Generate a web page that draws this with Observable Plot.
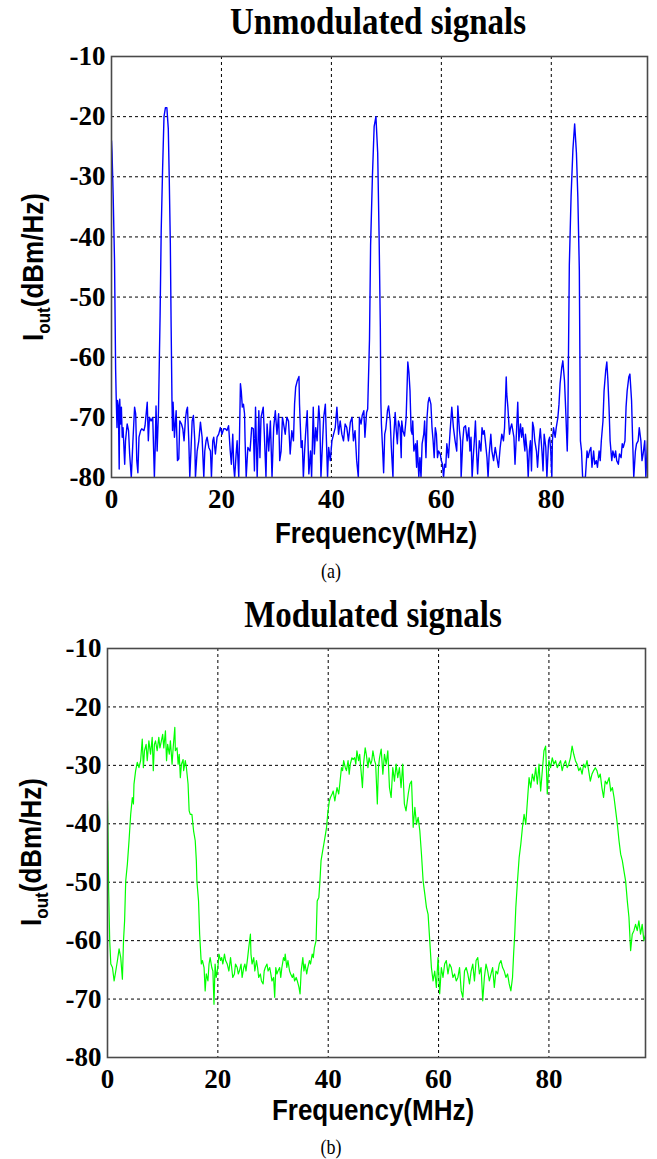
<!DOCTYPE html>
<html><head><meta charset="utf-8">
<script src="https://cdn.jsdelivr.net/npm/d3@7"></script>
<script src="https://cdn.jsdelivr.net/npm/@observablehq/plot@0.6"></script>
<style>
body{margin:0;background:#fff;}
#page{position:relative;width:657px;height:1159px;overflow:hidden;background:#fff;}
.abs{position:absolute;white-space:nowrap;line-height:1;transform:translate(-50%,-50%) scale(1,1.12);color:#000;}
.title{font-family:"Liberation Serif","Times New Roman",serif;font-weight:bold;font-size:33px;}
.xlab{font-family:"Liberation Sans",Arial,sans-serif;font-weight:bold;font-size:26px;}
.ylab{font-family:"Liberation Sans",Arial,sans-serif;font-weight:bold;font-size:26px;transform:translate(-50%,-50%) rotate(-90deg) scale(1,1.12);}
.ylab sub{font-size:17px;vertical-align:-6px;}
.cap{font-family:"Liberation Serif","Times New Roman",serif;font-size:18px;}
.panel{position:absolute;left:0;}
</style>
</head><body>
<div id="page"></div>
<script>
// ---- data ----
const xTicks = [0, 20, 40, 60, 80];
const yTicks = [-10, -20, -30, -40, -50, -60, -70, -80];
const xGrid = [20, 40, 60, 80];
const yGrid = [-20, -30, -40, -50, -60, -70];

// Panel (a): unmodulated signals, [frequency MHz, dBm/Hz]
const unmodulated = [
[0,-24],[0.1,-26],[0.3,-33],[0.55,-44],[0.75,-62],[0.85,-66.5],[1.0,-71.7],[1.1,-67.2],[1.25,-68.1],[1.4,-78.6],
[1.5,-67],[1.65,-71.1],[1.8,-68.3],[1.95,-73.3],[2.1,-71.7],[2.4,-77.8],[2.55,-73.9],[2.85,-71.1],[3.1,-72.2],[3.3,-76.1],
[3.6,-80],[3.9,-73.9],[4.2,-68.3],[4.4,-69.4],[4.6,-77.2],[4.8,-79.2],[5.0,-73.3],[5.3,-72.2],[5.5,-71.9],[5.9,-72.2],
[6.1,-71.4],[6.5,-67.5],[6.7,-73.9],[6.9,-70],[7.2,-70.6],[7.5,-70],[7.8,-80],[7.95,-75],[8.1,-68.1],[8.3,-75.6],
[8.55,-68.9],[8.84,-53],[9.04,-39],[9.3,-28.5],[9.55,-20],[9.81,-18.5],[10.07,-18.5],[10.33,-22],[10.5,-30],[10.7,-41],
[10.85,-55],[11.0,-67.2],[11.1,-72.2],[11.2,-67.5],[11.45,-73.3],[11.76,-68.9],[12.0,-77.2],[12.24,-76.9],[12.42,-70.6],[12.73,-71.1],
[12.97,-71.9],[13.2,-73.9],[13.45,-70.3],[13.64,-68.9],[13.82,-68.3],[14.06,-73.9],[14.24,-80],[14.48,-75],[14.67,-70.6],[14.9,-69.7],
[15.15,-73.9],[15.27,-80],[15.58,-75.6],[15.88,-73.9],[16.18,-70.8],[16.48,-73.3],[16.79,-80],[16.97,-75.6],[17.2,-73.9],[17.39,-73.3],
[17.7,-75],[18.0,-75.6],[18.18,-80],[18.42,-73.9],[18.6,-73.3],[18.9,-76.1],[19.2,-73.3],[19.5,-72.8],[19.8,-71.7],[20.1,-72.8],
[20.4,-71.9],[20.7,-71.9],[21.0,-72.2],[21.3,-71.4],[21.6,-75.6],[21.8,-77.8],[22.06,-72.8],[22.24,-78.3],[22.4,-80],[22.67,-76.1],
[22.85,-73.9],[23.15,-80],[23.45,-64.4],[23.6,-65.6],[23.8,-68.3],[24.0,-67.8],[24.2,-69.4],[24.3,-73.9],[24.5,-80],[24.8,-75],
[25.2,-75.6],[25.5,-71.7],[25.8,-71.9],[26.0,-78.9],[26.2,-68.3],[26.5,-80],[26.8,-68.9],[27.0,-76.7],[27.2,-70],[27.6,-68.3],
[27.8,-72.8],[28.1,-80],[28.3,-71.1],[28.6,-75.6],[28.9,-70.6],[29.2,-80],[29.5,-71.7],[29.8,-68.9],[30.1,-72.8],[30.4,-69.4],
[30.6,-77.2],[30.85,-75.6],[31.1,-70],[31.3,-71.1],[31.6,-72.8],[31.9,-70],[32.2,-70.6],[32.5,-76.1],[32.8,-72.2],[33.1,-73.9],
[33.3,-67.8],[33.5,-65],[33.8,-63.9],[34.1,-63.2],[34.2,-67.8],[34.5,-75],[34.7,-73.9],[34.9,-80],[35.1,-76.1],[35.3,-72.8],
[35.6,-68.9],[35.9,-79.4],[36.2,-75.6],[36.4,-80],[36.7,-68.3],[36.9,-76.1],[37.15,-71.7],[37.4,-73.9],[37.7,-68.1],[37.9,-70.6],
[38.1,-80],[38.4,-73.9],[38.6,-70],[38.9,-67.8],[39.1,-73.9],[39.3,-80],[39.5,-75],[39.8,-77.2],[40.1,-73.9],[40.4,-72.8],
[40.7,-71.7],[41.0,-68.3],[41.3,-72.8],[41.6,-70.6],[41.9,-72.8],[42.2,-73.9],[42.5,-71.1],[42.8,-71.7],[43.1,-73.9],[43.45,-70.8],
[43.75,-70],[44.0,-73.9],[44.3,-72.2],[44.6,-77.2],[44.9,-80],[45.1,-70],[45.4,-71.1],[45.6,-69.7],[45.9,-68.9],[46.1,-73.3],
[46.4,-69.2],[46.6,-68.6],[46.93,-57],[47.13,-41.4],[47.46,-30],[47.78,-21.6],[48.1,-20],[48.42,-26],[48.68,-40],[48.9,-55],
[49.0,-67.5],[49.1,-71.1],[49.3,-75],[49.5,-79.2],[49.7,-72.8],[49.9,-71.9],[50.2,-68.9],[50.4,-68.1],[50.7,-70.6],[50.9,-75],
[51.2,-80],[51.3,-73.9],[51.6,-69.2],[51.8,-72.2],[52.0,-74.4],[52.2,-70.6],[52.5,-71.7],[52.7,-76.7],[52.8,-70.6],[53.0,-72.2],
[53.3,-73.1],[53.5,-71.1],[53.6,-70],[53.8,-63.9],[53.9,-60.8],[54.1,-62.5],[54.3,-65.6],[54.5,-72.2],[54.7,-72.8],[54.8,-70.6],
[55.0,-75.6],[55.3,-74.4],[55.5,-78.3],[55.6,-73.9],[55.9,-80],[56.1,-76.7],[56.3,-80],[56.5,-74.4],[56.8,-72.8],[56.96,-70.6],
[57.2,-76.7],[57.4,-70],[57.6,-67.5],[57.8,-66.7],[58.1,-67.8],[58.3,-71.7],[58.5,-73.9],[58.7,-76.7],[58.9,-71.7],[59.1,-72.8],
[59.3,-76.7],[59.5,-75.6],[59.8,-76.1],[60.0,-77.2],[60.2,-77.8],[60.4,-80],[60.6,-77.8],[60.8,-78.3],[61.0,-74.4],[61.3,-76.7],
[61.6,-72.2],[61.9,-68.3],[62.2,-71.7],[62.5,-73.9],[62.8,-75.6],[63.0,-68.1],[63.3,-72.2],[63.5,-73.9],[63.6,-80],[63.9,-73.9],
[64.1,-71.7],[64.4,-71.4],[64.7,-73.9],[65.0,-71.7],[65.2,-75.6],[65.4,-73.3],[65.6,-80],[65.8,-76.7],[66.0,-73.9],[66.2,-70.6],
[66.4,-75.6],[66.6,-79.4],[66.9,-73.9],[67.2,-75.6],[67.4,-71.7],[67.6,-72.8],[67.8,-72.2],[68.0,-73.9],[68.3,-76.7],[68.5,-80],
[68.7,-76.1],[69.0,-72.8],[69.2,-75.6],[69.5,-77.2],[69.8,-75],[70.1,-76.7],[70.4,-78.3],[70.7,-75],[71.0,-72.8],[71.3,-73.9],
[71.5,-71.7],[71.8,-63.3],[71.9,-66.1],[72.1,-68.3],[72.4,-72.8],[72.6,-71.7],[72.8,-71.1],[73.2,-73.3],[73.4,-77.8],[73.6,-73.9],
[73.9,-67.5],[74.1,-73.9],[74.4,-71.1],[74.6,-73.3],[74.8,-71.7],[75.0,-73.9],[75.2,-75.6],[75.3,-72.8],[75.6,-75.6],[75.8,-80],
[76.0,-75.6],[76.2,-73.9],[76.4,-78.9],[76.6,-70.8],[76.8,-71.7],[77.0,-73.9],[77.3,-75.6],[77.5,-78.3],[77.8,-73.9],[78.0,-71.9],
[78.3,-75.6],[78.5,-78.9],[78.7,-72.8],[79.0,-75],[79.2,-80],[79.5,-73.9],[79.7,-73.3],[79.9,-75.6],[80.1,-80],[80.2,-73.9],
[80.4,-71.7],[80.7,-73.3],[80.9,-71.7],[81.2,-70],[81.4,-67.8],[81.6,-64.4],[81.9,-61.7],[82.1,-60.6],[82.4,-63.9],[82.6,-68.3],
[82.9,-75.6],[83.0,-71.7],[83.28,-44.7],[83.6,-33.2],[83.93,-25.5],[84.25,-21.2],[84.57,-26],[84.83,-33.4],[85.1,-45.5],[85.3,-73.9],
[85.5,-75.6],[85.7,-80],[86.0,-80],[86.2,-80],[86.5,-75.6],[86.7,-76.7],[86.95,-75.6],[87.2,-75],[87.4,-78.3],[87.7,-75.6],
[87.9,-77.8],[88.2,-77.2],[88.4,-78.3],[88.7,-75.6],[88.9,-77.2],[89.1,-73.9],[89.4,-70.6],[89.6,-65.6],[89.9,-62.2],[90.1,-60.8],
[90.3,-63.9],[90.5,-68.3],[90.7,-73.9],[91.0,-77.2],[91.2,-75.6],[91.5,-76.7],[91.7,-75.6],[91.9,-77.2],[92.2,-77.8],[92.4,-76.1],
[92.7,-76.7],[92.9,-74.4],[93.1,-75],[93.4,-73.9],[93.6,-68.3],[93.8,-65.6],[94.1,-63.3],[94.3,-62.8],[94.6,-67.2],[94.8,-73.9],
[95.0,-80],[95.3,-75.6],[95.5,-74.4],[95.8,-73.9],[96.0,-71.7],[96.3,-73.9],[96.5,-77.2],[96.7,-76.1],[97.0,-73.9],[97.2,-80],
[97.5,-73.9]
];

// Panel (b): modulated signals, [frequency MHz, dBm/Hz]
const modulated = [
[0,-36],[0.1,-42],[0.2,-51],[0.4,-60],[0.6,-64],[0.9,-64.6],[1.2,-66.9],[1.5,-65.2],[1.8,-63.4],[2.1,-61.4],
[2.4,-62.9],[2.7,-66.6],[2.9,-60],[3.1,-56.6],[3.3,-49.8],[3.6,-46.9],[3.9,-42.9],[4.2,-38.4],[4.5,-35.5],[4.7,-36.6],
[4.8,-33.2],[5.1,-30.9],[5.4,-29.5],[5.7,-30.4],[6.0,-29.2],[6.3,-25.5],[6.5,-30.4],[6.7,-27.5],[7.0,-26.4],[7.2,-29.2],
[7.5,-25.8],[7.8,-28.1],[8.1,-25.2],[8.3,-30.9],[8.5,-26.4],[8.7,-25.8],[9.0,-27.5],[9.3,-25.2],[9.5,-27],[9.7,-26.1],
[10.0,-24.7],[10.2,-27],[10.5,-24.1],[10.7,-29.2],[10.9,-26.4],[11.2,-28.1],[11.4,-25.8],[11.7,-29.8],[11.9,-27],[12.2,-23.5],
[12.3,-27.5],[12.6,-27],[12.8,-29.8],[13.0,-28.1],[13.2,-32.1],[13.4,-29.8],[13.7,-29],[13.8,-30.9],[14.1,-29.2],[14.3,-30.4],
[14.6,-33.2],[14.8,-37.8],[15.0,-38.4],[15.3,-38.4],[15.6,-41.2],[15.9,-42.9],[16.1,-46.3],[16.2,-49.8],[16.5,-53.2],[16.7,-58.9],
[17.0,-64],[17.2,-63.4],[17.5,-64.6],[17.7,-68.6],[17.9,-65.7],[18.2,-66.9],[18.4,-64],[18.6,-62.9],[18.9,-64.6],[19.1,-65.2],
[19.3,-70.9],[19.5,-64],[19.7,-66.3],[20.0,-64.6],[20.2,-62.3],[20.5,-63.4],[20.7,-62.9],[20.9,-64],[21.2,-62.3],[21.4,-63.4],
[21.7,-64],[22.0,-65.2],[22.3,-62.9],[22.5,-64.6],[22.7,-66.3],[23.0,-65.7],[23.2,-64],[23.5,-64.6],[23.7,-65.7],[23.9,-65.2],
[24.2,-64],[24.4,-66.3],[24.7,-64.6],[24.9,-64],[25.1,-65.2],[25.4,-62.9],[25.6,-61.2],[25.9,-58.9],[26.0,-62.3],[26.2,-64],
[26.5,-62.9],[26.7,-65.2],[27.0,-63.4],[27.2,-64.6],[27.4,-66.3],[27.7,-65.7],[27.9,-66.9],[28.2,-67.4],[28.4,-65.2],[28.6,-64.6],
[28.9,-64],[29.1,-65.2],[29.4,-64.6],[29.6,-65.7],[29.8,-66.9],[30.1,-66.3],[30.3,-69.7],[30.5,-64.6],[30.7,-65.7],[30.9,-65.2],
[31.2,-64.6],[31.4,-66.3],[31.6,-64.6],[31.9,-62.9],[32.1,-63.4],[32.2,-62.3],[32.5,-64.6],[32.7,-63.4],[33.0,-65.2],[33.2,-65.7],
[33.5,-66.3],[33.7,-65.7],[33.9,-66.9],[34.2,-66.3],[34.4,-66.9],[34.7,-68],[34.9,-69.1],[35.1,-65.2],[35.4,-62.9],[35.6,-65.2],
[35.8,-64],[36.1,-65.7],[36.3,-64.6],[36.6,-63.4],[36.8,-64],[37.1,-62.3],[37.3,-62.9],[37.5,-61.2],[37.8,-60],[38.0,-53.2],
[38.3,-52.6],[38.5,-49.8],[38.7,-46.3],[39.0,-44.6],[39.2,-43.5],[39.5,-41.8],[39.7,-40.6],[39.9,-38.4],[40.2,-36.1],[40.4,-35.5],
[40.7,-34.9],[40.9,-34.4],[41.2,-36.1],[41.4,-34.9],[41.6,-33.8],[41.9,-34.9],[42.1,-33.2],[42.4,-30.4],[42.6,-30.9],[42.8,-29.2],
[43.1,-30.4],[43.3,-30.9],[43.6,-29.2],[43.8,-31.5],[44.0,-29.8],[44.3,-28.7],[44.5,-29],[44.8,-28.7],[45.0,-29.8],[45.2,-27.5],
[45.5,-29.2],[45.7,-28.1],[46.0,-31.5],[46.2,-33.8],[46.4,-29.8],[46.7,-27],[46.9,-28.1],[47.2,-30.4],[47.4,-28.7],[47.7,-29.8],
[47.9,-29.2],[48.1,-27.5],[48.4,-29.2],[48.6,-29.8],[48.9,-36.6],[49.1,-30.4],[49.3,-28.7],[49.6,-27.2],[49.9,-31.5],[50.2,-28.1],
[50.5,-29.8],[50.8,-27.5],[51.1,-33.8],[51.4,-35.5],[51.7,-30.4],[52.0,-32.7],[52.3,-29.8],[52.6,-32.1],[52.9,-30.4],[53.2,-33.8],
[53.5,-29.8],[53.8,-36.6],[54.1,-37.8],[54.5,-34.9],[54.8,-33.2],[55.1,-32.7],[55.4,-40.6],[55.7,-37.2],[56.0,-40.1],[56.3,-38.9],
[56.6,-41.2],[56.9,-45.2],[57.2,-49.8],[57.5,-52],[57.8,-54.3],[58.1,-55.5],[58.4,-60],[58.7,-64.6],[59.0,-66.9],[59.3,-65.2],
[59.6,-68],[59.9,-62.9],[60.2,-69.1],[60.5,-64.6],[60.8,-66.3],[61.1,-64],[61.4,-63.4],[61.7,-65.7],[62.0,-64],[62.3,-64.6],
[62.6,-66.3],[62.9,-65.7],[63.2,-66.9],[63.5,-66.3],[63.8,-64.6],[64.1,-68.6],[64.4,-69.7],[64.7,-65.2],[65.0,-64.6],[65.3,-65.7],
[65.6,-67.4],[65.9,-65.2],[66.2,-64],[66.5,-66.9],[66.8,-63.4],[67.1,-62.9],[67.4,-65.7],[67.7,-64.6],[68.0,-70.3],[68.3,-66.3],
[68.6,-64],[68.9,-65.2],[69.2,-66.9],[69.5,-65.7],[69.8,-64.6],[70.1,-68],[70.4,-65.2],[70.7,-65.7],[71.0,-64],[71.3,-63.4],
[71.6,-64.6],[71.9,-65.2],[72.2,-66.3],[72.5,-65.7],[72.8,-67.4],[73.1,-68.6],[73.4,-66.3],[73.6,-62.3],[73.8,-58.9],[74.0,-54.3],
[74.3,-49.8],[74.6,-45.8],[74.9,-43.5],[75.2,-40.6],[75.5,-38.4],[75.8,-40.1],[76.1,-36.1],[76.4,-32.1],[76.7,-33.8],[77.0,-31.5],
[77.3,-32.7],[77.6,-30.4],[77.9,-33.2],[78.2,-29.8],[78.5,-34.4],[78.8,-30.9],[79.1,-27.5],[79.4,-26.7],[79.7,-34.9],[80.0,-29.2],
[80.3,-30.4],[80.6,-28.7],[80.9,-29.8],[81.2,-29.2],[81.5,-30.4],[81.8,-29.8],[82.1,-29.2],[82.4,-30.9],[82.7,-29.8],[83.0,-29.2],
[83.3,-30.4],[83.6,-29.8],[83.9,-28.7],[84.2,-26.7],[84.5,-28.1],[84.8,-29.2],[85.1,-29.8],[85.4,-30.9],[85.7,-30.4],[86.0,-31.5],
[86.3,-29.8],[86.6,-30.4],[86.9,-29.2],[87.2,-30.9],[87.5,-32.7],[87.8,-31.5],[88.1,-30.9],[88.4,-30.4],[88.7,-30.9],[89.0,-32.1],
[89.3,-31.5],[89.6,-33.8],[89.9,-35.5],[90.2,-32.7],[90.5,-33.2],[90.9,-32.1],[91.2,-34.4],[91.5,-33.8],[91.8,-35.5],[92.1,-37.8],
[92.4,-40.1],[92.7,-42.9],[93.0,-45.2],[93.3,-46.3],[93.6,-48.1],[93.9,-49.8],[94.2,-53.2],[94.5,-56],[94.8,-61.7],[95.1,-58.9],
[95.4,-58.3],[95.7,-57.2],[96.0,-58.3],[96.3,-56.6],[96.6,-58.9],[96.9,-57.2],[97.2,-60],[97.5,-59]
];

const titles = ["Unmodulated signals", "Modulated signals"];
const captions = ["(a)", "(b)"];
const xLabel = "Frequency(MHz)";

// ---- drawing ----
const page = document.getElementById("page");

function panel(data, color, cfg) {
  const chart = Plot.plot({
    width: 657,
    height: cfg.height,
    marginLeft: cfg.left,
    marginRight: cfg.right,
    marginTop: 20,
    marginBottom: 40,
    style: {fontFamily: '"Liberation Serif","Times New Roman",serif', fontSize: "27px", fontWeight: "bold", background: "transparent", color: "#000"},
    x: {domain: [0, 97.5]},
    y: {domain: [-80, -10]},
    marks: [
      Plot.ruleX(xGrid, {stroke: "#000", strokeWidth: 1, strokeDasharray: "3,3"}),
      Plot.ruleY(yGrid, {stroke: "#000", strokeWidth: 1, strokeDasharray: "3,3"}),
      Plot.line(data, {x: d => d[0], y: d => d[1], stroke: color, strokeWidth: cfg.lw, clip: true}),
      Plot.frame({stroke: "#4a4a4a", strokeWidth: 1.6}),
      Plot.axisX(xTicks, {tickSize: 0, tickPadding: 11, label: null, tickFormat: d => String(d)}),
      Plot.axisY(yTicks, {tickSize: 0, tickPadding: 6, label: null, tickFormat: d => String(d)})
    ]
  });
  chart.classList.add("panel");
  chart.style.top = cfg.top + "px";
  chart.style.position = "absolute";
  page.appendChild(chart);
}

function label(text, cls, x, y, html) {
  const d = document.createElement("div");
  d.className = "abs " + cls;
  if (html) d.innerHTML = text; else d.textContent = text;
  d.style.left = x + "px";
  d.style.top = y + "px";
  page.appendChild(d);
}

panel(unmodulated, "#0000ff", {top: 36, height: 481, left: 111, right: 10, lw: 1.4});
panel(modulated, "#00ff00", {top: 628, height: 469, left: 107, right: 12, lw: 1.2});

label(titles[0], "title", 378, 22);
label(titles[1], "title", 373, 615);
label(xLabel, "xlab", 376, 533);
label(xLabel, "xlab", 373, 1110);
label("I<sub>out</sub>(dBm/Hz)", "ylab", 36, 267, true);
label("I<sub>out</sub>(dBm/Hz)", "ylab", 34, 852, true);
label(captions[0], "cap", 331, 571);
label(captions[1], "cap", 331, 1147);
</script>
</body></html>
